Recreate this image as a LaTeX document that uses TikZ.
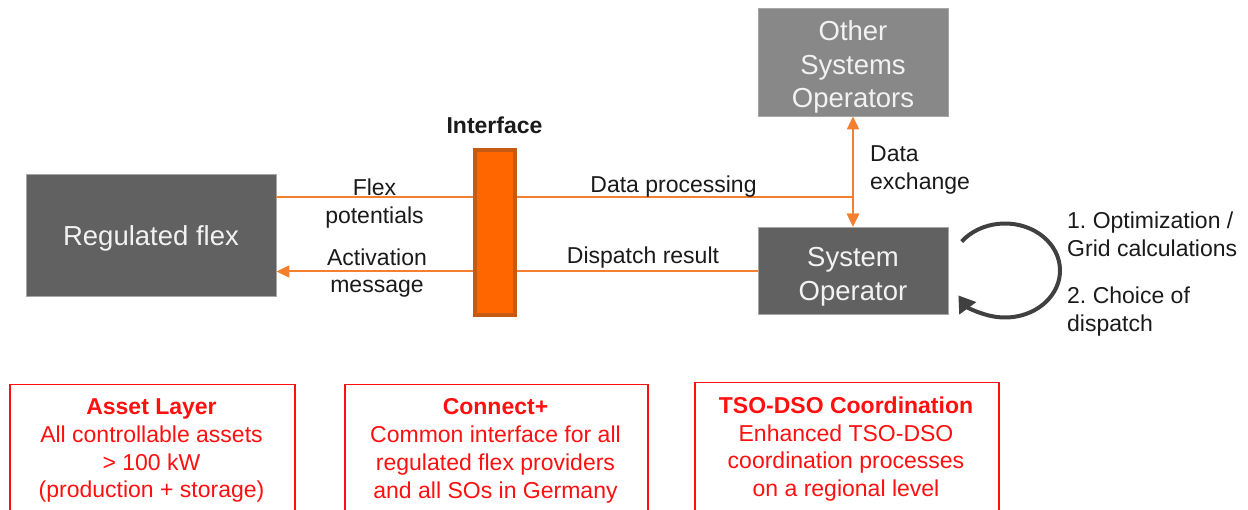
\documentclass[tikz,border=0pt]{standalone}
\usepackage{fontspec}
\setmainfont{Liberation Sans}
\usetikzlibrary{arrows.meta}
\definecolor{darkbox}{HTML}{616161}
\definecolor{lightbox}{HTML}{888888}
\definecolor{boxtext}{HTML}{F2F2F2}
\definecolor{linecol}{HTML}{F37F2F}
\definecolor{ifill}{HTML}{FF6600}
\definecolor{iborder}{HTML}{C55A11}
\definecolor{redcol}{HTML}{FF1010}
\definecolor{loopcol}{HTML}{404040}
\definecolor{txtcol}{HTML}{1A1A1A}
\frenchspacing
\begin{document}
\begin{tikzpicture}[x=1pt,y=1pt,
  graybox/.style={rectangle, draw=black!35, line width=0.8pt, inner sep=0pt},
  graytext/.style={inner sep=0pt, align=center, text=boxtext, font=\fontsize{27.5}{33.5}\selectfont},
  ifacebox/.style={rectangle, draw=iborder, fill=ifill, line width=4pt, inner sep=0pt,
    minimum width=40pt, minimum height=165pt},
  lbl/.style={inner sep=0pt, align=center, text=txtcol, font=\fontsize{23}{27.6}\selectfont},
  redbox/.style={rectangle, draw=redcol, line width=1.5pt, inner sep=0pt},
  redtxt/.style={inner sep=0pt, align=center, text=redcol, font=\fontsize{23}{27.7}\selectfont},
  oline/.style={draw=linecol, line width=2pt},
  otip/.style={-{Triangle[length=13pt,width=12pt]}},
  looparrow/.style={draw=loopcol, line width=4pt, -{Triangle[length=16pt,width=20pt]}}
]
\useasboundingbox (0,0) rectangle (1248,-510);
\clip (0,0) rectangle (1248,-510);

% main boxes
\node[graybox, fill=darkbox, minimum width=250pt, minimum height=122pt] (rf) at (151,-235) {};
\node[graybox, fill=lightbox, minimum width=190pt, minimum height=108pt] (oso) at (853,-62) {};
\node[graybox, fill=darkbox, minimum width=190pt, minimum height=87pt] (so) at (853,-270.5) {};
\node[graytext, anchor=north] (rftxt) at (151,-225.5) {Regulated flex};
\node[graytext, anchor=north] (osotxt) at (853,-20.4) {Other\\Systems\\Operators};
\node[graytext, anchor=north] (sotxt) at (853,-247.6) {System\\Operator};
\node[ifacebox] (iface) at (495,-232.5) {};
\node[lbl, font=\fontsize{23}{27.6}\selectfont\bfseries, anchor=base] (ilabel) at (494.5,-133.3) {Interface};

% line levels
\coordinate (ytop) at (0,-197.5);
\coordinate (ybot) at (0,-271.5);

% connectors
\draw[oline] (rf.east |- ytop) -- (iface.west |- ytop);
\draw[oline, otip] (iface.east |- ytop) -| (so.north);
\draw[oline, {Triangle[length=13pt,width=12pt]}-{Triangle[length=13pt,width=12pt]}] (oso.south) -- (so.north);
\draw[oline] (so.west |- ybot) -- (iface.east |- ybot);
\draw[oline, otip] (iface.west |- ybot) -- (rf.east |- ybot);

% labels
\node[lbl, anchor=north] (flexlbl) at (374.5,-179) {Flex\\potentials};
\node[lbl, anchor=north] (actlbl) at (377,-248.4) {Activation\\message};
\node[lbl, anchor=base] (dplbl) at (673.5,-192.3) {Data processing};
\node[lbl, anchor=base] (drlbl) at (643,-264) {Dispatch result};
\node[lbl, anchor=north west, align=left] (delbl) at (870,-145.6) {Data\\exchange};
\node[lbl, anchor=north west, align=left] (optlbl) at (1067,-211.6) {1. Optimization /\\Grid calculations};
\node[lbl, anchor=north west, align=left] (chlbl) at (1067,-286.6) {2. Choice of\\dispatch};

% self loop of the System Operator
\coordinate (loopcenter) at (1005,-270.5);
\draw[looparrow] ([shift={(142:55pt and 47pt)}]loopcenter) arc[start angle=142, end angle=-148, x radius=55pt, y radius=47pt];

% red boxes
\node[redbox, minimum width=285pt, minimum height=150pt, anchor=north west] (assetbox) at (9,-384) {};
\node[redbox, minimum width=303pt, minimum height=150pt, anchor=north west] (connectbox) at (344,-384) {};
\node[redbox, minimum width=304pt, minimum height=150pt, anchor=north west] (tsobox) at (694,-382) {};
\node[redtxt, anchor=north] (assettxt) at (151.5,-398.7) {\textbf{Asset Layer}\\All controllable assets\\> 100 kW\\(production + storage)};
\node[redtxt, anchor=north] (connecttxt) at (495.5,-398.7) {\textbf{Connect+}\\Common interface for all\\regulated flex providers\\and all SOs in Germany};
\node[redtxt, anchor=north] (tsotxt) at (846,-396.7) {\textbf{TSO-DSO Coordination}\\Enhanced TSO-DSO\\coordination processes\\on a regional level};
\end{tikzpicture}
\end{document}
